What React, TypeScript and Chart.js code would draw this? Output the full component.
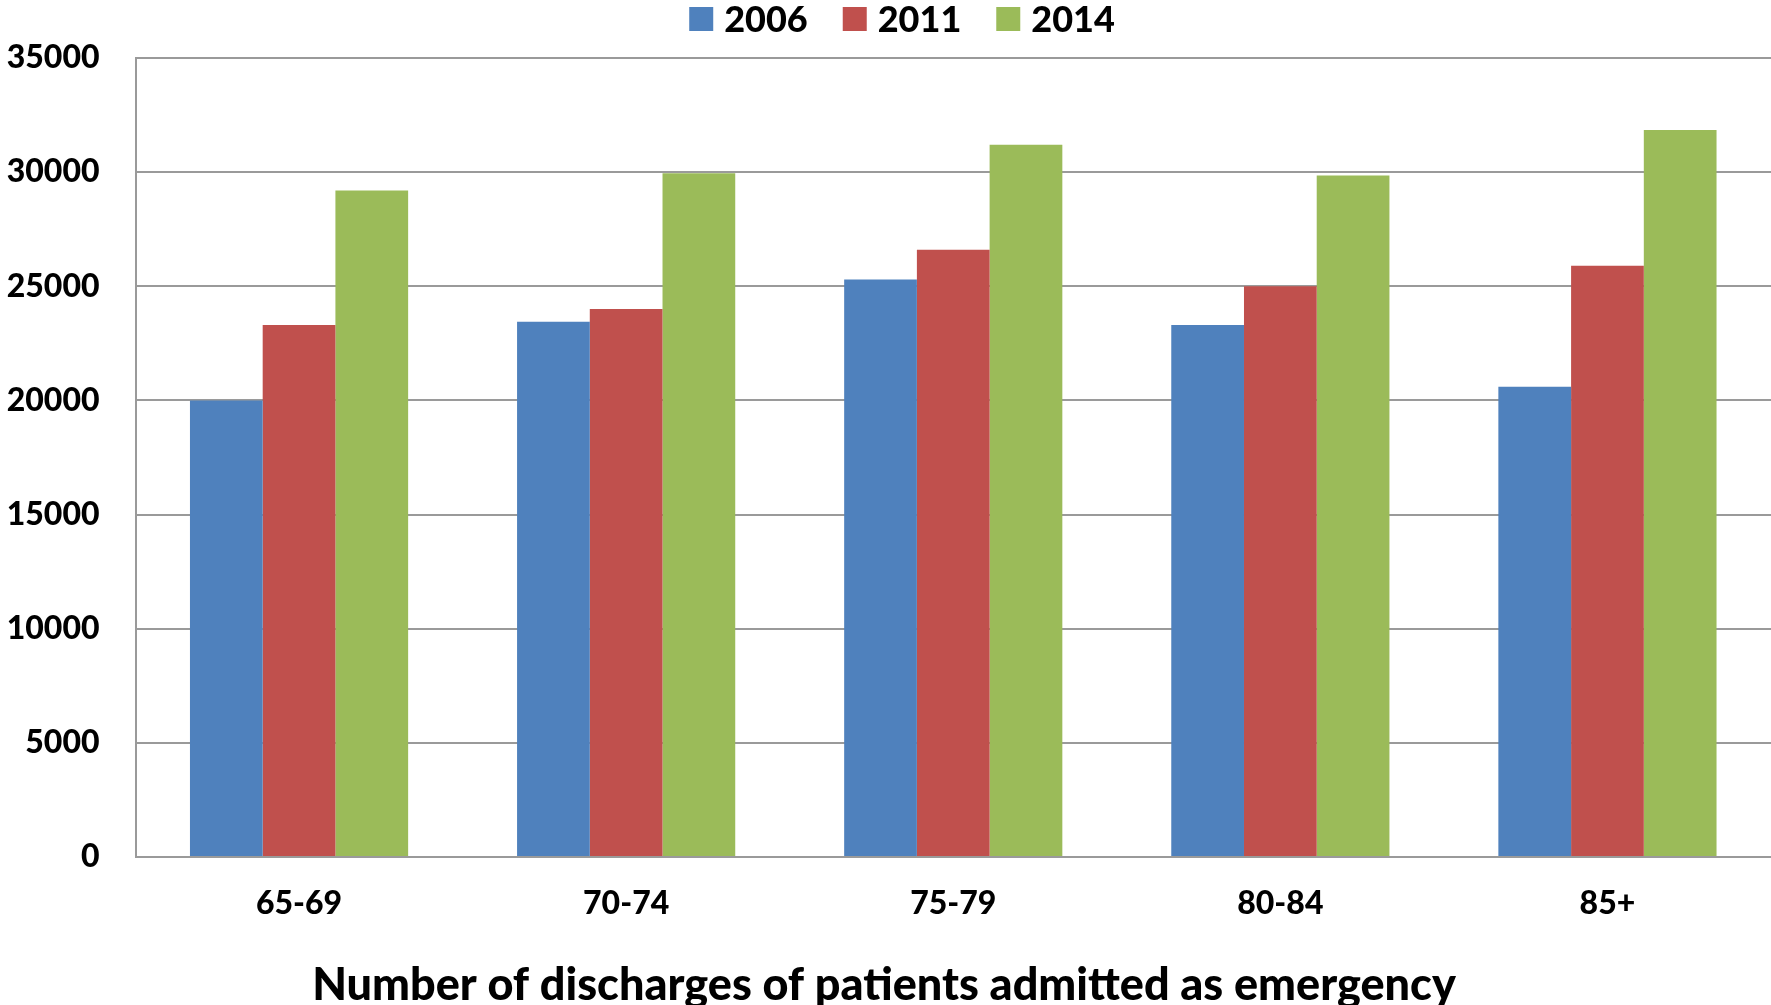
import React, { useEffect, useRef } from "react";
import { Chart, registerables } from "chart.js";

Chart.register(...registerables);

const categories = ["65-69", "70-74", "75-79", "80-84", "85+"];
const seriesLabels = ["2006", "2011", "2014"];
const values2006 = [20000, 23450, 25300, 23300, 20600];
const values2011 = [23300, 24000, 26600, 25000, 25900];
const values2014 = [29200, 29950, 31200, 29850, 31850];
const seriesColors = ["#4F81BD", "#C0504D", "#9BBB59"];
const yTicks = [0, 5000, 10000, 15000, 20000, 25000, 30000, 35000];
const xTitle = "Number of discharges of patients admitted as emergency";

const FONT = "Lato, 'Open Sans', sans-serif";
const WEIGHT = "900";

const W = 1771;
const H = 1005;

const legendPlugin = {
  id: "customLegend",
  afterDraw(chart: any) {
    const ctx = chart.ctx;
    const ds = chart.data.datasets;
    ctx.save();
    ctx.font = `${WEIGHT} 36px ${FONT}`;
    const box = 24;
    const gapText = 11;
    const gapItem = 35;
    const widths = ds.map((d: any) => ctx.measureText(d.label).width);
    let total = 0;
    widths.forEach((w: number, i: number) => {
      total += box + gapText + w + (i < widths.length - 1 ? gapItem : 0);
    });
    let x = 902 - total / 2;
    const cy = 19;
    ds.forEach((d: any, i: number) => {
      ctx.fillStyle = d.backgroundColor;
      ctx.fillRect(x, cy - box / 2, box, box);
      x += box + gapText;
      ctx.fillStyle = "#000";
      ctx.textBaseline = "middle";
      ctx.textAlign = "left";
      ctx.fillText(d.label, x, cy + 1);
      x += widths[i] + gapItem;
    });
    // x-axis title, centred on the whole figure
    ctx.font = `${WEIGHT} 45px ${FONT}`;
    ctx.textAlign = "center";
    ctx.textBaseline = "alphabetic";
    ctx.fillText(xTitle, 884, 1000);
    ctx.restore();
  },
};

export default function App() {
  const ref = useRef<HTMLCanvasElement | null>(null);
  useEffect(() => {
    if (!ref.current) return;
    const chart = new Chart(ref.current, {
      type: "bar",
      data: {
        labels: categories,
        datasets: [values2006, values2011, values2014].map((v, i) => ({
          label: seriesLabels[i],
          data: v,
          backgroundColor: seriesColors[i],
          borderWidth: 0,
          categoryPercentage: 0.667,
          barPercentage: 1.0,
        })),
      },
      options: {
        responsive: false,
        animation: false,
        devicePixelRatio: 1,
        layout: { padding: { top: 58, left: 0, right: 0, bottom: 0 } },
        plugins: {
          legend: { display: false },
          tooltip: { enabled: false },
        },
        scales: {
          x: {
            grid: { display: false, drawTicks: false },
            border: { display: true, color: "#9a9a9a", width: 2 },
            ticks: {
              color: "#000",
              font: { family: FONT, size: 32, weight: WEIGHT },
              padding: 27,
              maxRotation: 0,
            },
            title: { display: false },
            afterFit(scale: any) {
              scale.height = H - 857;
            },
          },
          y: {
            min: 0,
            max: 35000,
            afterBuildTicks(scale: any) {
              scale.ticks = yTicks.map((v) => ({ value: v }));
            },
            grid: { color: "#9a9a9a", lineWidth: 2, drawTicks: false },
            border: { display: true, color: "#9a9a9a", width: 2 },
            ticks: {
              color: "#000",
              font: { family: FONT, size: 32, weight: WEIGHT },
              padding: 36,
              callback: (v: any) => String(v),
            },
            afterFit(scale: any) {
              scale.width = 135.5;
            },
          },
        },
      },
      plugins: [legendPlugin],
    });
    return () => chart.destroy();
  }, []);
  return (
    <div style={{ position: "absolute", left: 0, top: 0, width: W, height: H, background: "#fff" }}>
      <canvas ref={ref} width={W} height={H} style={{ width: W, height: H, display: "block" }} />
    </div>
  );
}
